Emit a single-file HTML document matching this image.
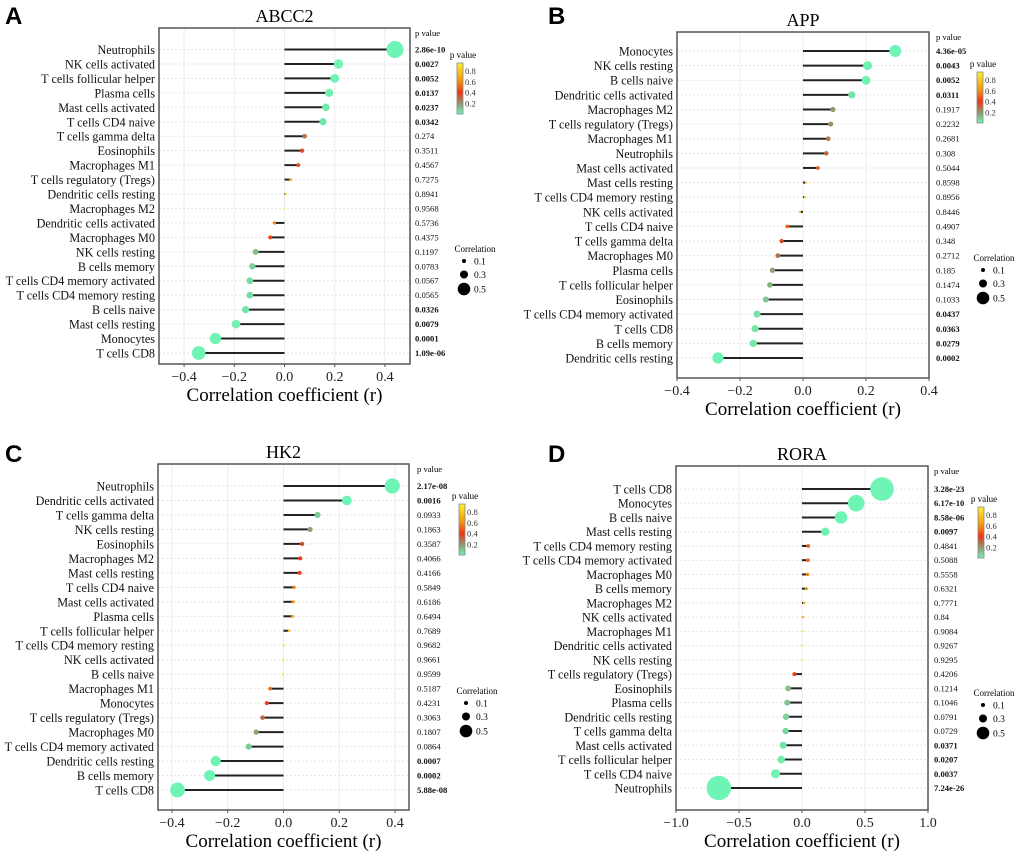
<!DOCTYPE html>
<html><head><meta charset="utf-8">
<style>
html,body{margin:0;padding:0;background:#fff;}
svg{display:block;font-family:"Liberation Serif",serif;}
.lt{font-family:"Liberation Sans",sans-serif;font-weight:bold;}
</style></head>
<body>
<svg id="fig" width="1020" height="854" viewBox="0 0 1020 854" xmlns="http://www.w3.org/2000/svg">
<defs>
<linearGradient id="pgrad" x1="0" y1="1" x2="0" y2="0">
<stop offset="0" stop-color="#6ef5b5"/>
<stop offset="0.2" stop-color="#8f9a6e"/>
<stop offset="0.42" stop-color="#ee3518"/>
<stop offset="0.65" stop-color="#f5950f"/>
<stop offset="1" stop-color="#fff030"/>
</linearGradient>
</defs>
</svg>
<script>
// Panel A (ABCC2)
const catsA=["Neutrophils","NK cells activated","T cells follicular helper","Plasma cells","Mast cells activated","T cells CD4 naive","T cells gamma delta","Eosinophils","Macrophages M1","T cells regulatory (Tregs)","Dendritic cells resting","Macrophages M2","Dendritic cells activated","Macrophages M0","NK cells resting","B cells memory","T cells CD4 memory activated","T cells CD4 memory resting","B cells naive","Mast cells resting","Monocytes","T cells CD8"];
const corrA=[0.44,0.215,0.2,0.178,0.165,0.153,0.08,0.07,0.055,0.025,0.006,-0.002,-0.04,-0.057,-0.115,-0.128,-0.138,-0.138,-0.155,-0.193,-0.275,-0.342];
const pvalA=["2.86e-10","0.0027","0.0052","0.0137","0.0237","0.0342","0.274","0.3511","0.4567","0.7275","0.8941","0.9568","0.5736","0.4375","0.1197","0.0783","0.0567","0.0565","0.0326","0.0079","0.0001","1.09e-06"];
const ticksA=["-0.4","-0.2","0.0","0.2","0.4"];
// Panel B (APP)
const catsB=["Monocytes","NK cells resting","B cells naive","Dendritic cells activated","Macrophages M2","T cells regulatory (Tregs)","Macrophages M1","Neutrophils","Mast cells activated","Mast cells resting","T cells CD4 memory resting","NK cells activated","T cells CD4 naive","T cells gamma delta","Macrophages M0","Plasma cells","T cells follicular helper","Eosinophils","T cells CD4 memory activated","T cells CD8","B cells memory","Dendritic cells resting"];
const corrB=[0.293,0.205,0.2,0.155,0.095,0.088,0.08,0.074,0.048,0.01,0.006,-0.01,-0.05,-0.068,-0.08,-0.097,-0.105,-0.118,-0.146,-0.152,-0.158,-0.27];
const pvalB=["4.36e-05","0.0043","0.0052","0.0311","0.1917","0.2232","0.2681","0.308","0.5044","0.8598","0.8956","0.8446","0.4907","0.348","0.2712","0.185","0.1474","0.1033","0.0437","0.0363","0.0279","0.0002"];
const ticksB=["-0.4","-0.2","0.0","0.2","0.4"];
// Panel C (HK2)
const catsC=["Neutrophils","Dendritic cells activated","T cells gamma delta","NK cells resting","Eosinophils","Macrophages M2","Mast cells resting","T cells CD4 naive","Mast cells activated","Plasma cells","T cells follicular helper","T cells CD4 memory resting","NK cells activated","B cells naive","Macrophages M1","Monocytes","T cells regulatory (Tregs)","Macrophages M0","T cells CD4 memory activated","Dendritic cells resting","B cells memory","T cells CD8"];
const corrC=[0.39,0.227,0.122,0.095,0.067,0.06,0.058,0.038,0.035,0.032,0.02,0.002,-0.002,-0.003,-0.048,-0.06,-0.075,-0.098,-0.125,-0.243,-0.265,-0.38];
const pvalC=["2.17e-08","0.0016","0.0933","0.1863","0.3587","0.4066","0.4166","0.5849","0.6186","0.6494","0.7689","0.9682","0.9661","0.9599","0.5187","0.4231","0.3063","0.1807","0.0864","0.0007","0.0002","5.88e-08"];
const ticksC=["-0.4","-0.2","0.0","0.2","0.4"];
// Panel D (RORA)
const catsD=["T cells CD8","Monocytes","B cells naive","Mast cells resting","T cells CD4 memory resting","T cells CD4 memory activated","Macrophages M0","B cells memory","Macrophages M2","NK cells activated","Macrophages M1","Dendritic cells activated","NK cells resting","T cells regulatory (Tregs)","Eosinophils","Plasma cells","Dendritic cells resting","T cells gamma delta","Mast cells activated","T cells follicular helper","T cells CD4 naive","Neutrophils"];
const corrD=[0.635,0.43,0.31,0.185,0.05,0.048,0.043,0.035,0.018,0.01,0.003,0.002,0.001,-0.06,-0.11,-0.117,-0.127,-0.13,-0.15,-0.165,-0.21,-0.66];
const pvalD=["3.28e-23","6.17e-10","8.58e-06","0.0097","0.4841","0.5088","0.5558","0.6321","0.7771","0.84","0.9084","0.9267","0.9295","0.4206","0.1214","0.1046","0.0791","0.0729","0.0371","0.0207","0.0037","7.24e-26"];
const ticksD=["-1.0","-0.5","0.0","0.5","1.0"];

const NS="http://www.w3.org/2000/svg";
const svg=document.getElementById('fig');
function mk(tag,attrs,parent){const e=document.createElementNS(NS,tag);for(const k in attrs)e.setAttribute(k,attrs[k]);(parent||svg).appendChild(e);return e;}
function lerp(a,b,t){return Math.round(a+(b-a)*t);}
const stops=[[0,[110,245,181]],[0.2,[143,154,110]],[0.4,[238,53,24]],[0.62,[245,149,15]],[0.95,[255,240,48]]];
function pcolor(p){
  if(p>=stops[stops.length-1][0])return 'rgb('+stops[stops.length-1][1].join(',')+')';
  for(let i=0;i<stops.length-1;i++){const a=stops[i],b=stops[i+1];if(p<=b[0]){const t=(p-a[0])/(b[0]-a[0]);return 'rgb('+[0,1,2].map(j=>lerp(a[1][j],b[1][j],t)).join(',')+')';}}
}
function panel(cfg,cats,corr,pv,ticks){
  const g=mk('g',{});
  
  
  const xs=v=>cfg.x0+(v-cfg.xmin)/(cfg.xmax-cfg.xmin)*(cfg.x1-cfg.x0);
  const n=cats.length, ys=i=>cfg.r0+i*(cfg.r1-cfg.r0)/(n-1);
  let t=mk('text',{x:cfg.lx,y:cfg.ly,'font-size':24,class:'lt'},g);t.textContent=cfg.letter;
  
  t=mk('text',{x:(cfg.x0+cfg.x1)/2,y:cfg.y0-6,'font-size':18,'text-anchor':'middle'},g);t.textContent=cfg.title;
  
  ticks.forEach(tk=>{const x=xs(parseFloat(tk));
    const l=mk('line',{x1:x,x2:x,y1:cfg.y0,y2:cfg.y1,stroke:'#ececec','stroke-width':1},g);
    
    const tt=mk('text',{x:x,y:cfg.y1+17,'font-size':14,'text-anchor':'middle',fill:'#222'},g);tt.textContent=tk.replace('-','\u2212');
    
    const tl=mk('line',{x1:x,x2:x,y1:cfg.y1,y2:cfg.y1+3,stroke:'#555'},g);
    
  });
  cats.forEach((c,i)=>{const y=ys(i);
    const l=mk('line',{x1:cfg.x0,x2:cfg.x1,y1:y,y2:y,stroke:'#e6e6e6','stroke-dasharray':'2,2'},g);
    
    const tt=mk('text',{x:cfg.x0-4,y:y+4.5,'font-size':12.2,'text-anchor':'end',fill:'#111'},g);tt.textContent=c;
    
  });
  const box=mk('rect',{x:cfg.x0,y:cfg.y0,width:cfg.x1-cfg.x0,height:cfg.y1-cfg.y0,fill:'none',stroke:'#555','stroke-width':1.5},g);
  
  cats.forEach((c,i)=>{const y=ys(i),v=corr[i],p=parseFloat(pv[i]);
    const st=mk('line',{x1:xs(0),x2:xs(v),y1:y,y2:y,stroke:'#222','stroke-width':2},g);
    
    const dot=mk('circle',{cx:xs(v),cy:y,r:1+17*Math.abs(v),fill:pcolor(p)},g);
    
    const pt=mk('text',{x:cfg.px,y:y+3,'font-size':8.6,fill:'#111','font-weight':p<0.05?'bold':'normal'},g);pt.textContent=pv[i];
    
  });
  t=mk('text',{x:cfg.px,y:cfg.y0+8,'font-size':8.6},g);t.textContent='p value';
  
  t=mk('text',{x:(cfg.x0+cfg.x1)/2,y:cfg.y1+37,'font-size':19,'text-anchor':'middle'},g);t.textContent='Correlation coefficient (r)';
  
  const cb=mk('rect',{x:cfg.cbx,y:cfg.cby,width:6,height:51,fill:'url(#pgrad)',stroke:'#888','stroke-width':0.8},g);
  
  t=mk('text',{x:cfg.cbx+6,y:cfg.cby-5,'font-size':9,'text-anchor':'middle'},g);t.textContent='p value';
  
  ["0.8","0.6","0.4","0.2"].forEach(s=>{const yy=cfg.cby+51-parseFloat(s)/0.95*51;
    const ct=mk('text',{x:cfg.cbx+8,y:yy+3,'font-size':8.6,fill:'#333'},g);ct.textContent=s;
    });
  t=mk('text',{x:cfg.sx+11,y:cfg.sy-9,'font-size':9,'text-anchor':'middle'},g);t.textContent='Correlation';
  
  [["0.1",2,0],["0.3",4,13.5],["0.5",6.3,28]].forEach(a=>{
    const c=mk('circle',{cx:cfg.sx,cy:cfg.sy+a[2],r:a[1],fill:'#000'},g);
    
    const st=mk('text',{x:cfg.sx+10,y:cfg.sy+a[2]+3.5,'font-size':9.5},g);st.textContent=a[0];
    });
}
panel({id:'a',letter:'A',title:'ABCC2',lx:5,ly:24,x0:159,x1:410,y0:28,y1:364,xmin:-0.5,xmax:0.5,r0:49.5,r1:353,px:415,cbx:457,cby:63,sx:464,sy:261},catsA,corrA,pvalA,ticksA);
panel({id:'b',letter:'B',title:'APP',lx:548,ly:24,x0:677,x1:929,y0:32,y1:378,xmin:-0.4,xmax:0.4,r0:51,r1:358,px:936,cbx:977,cby:72,sx:983,sy:270},catsB,corrB,pvalB,ticksB);
panel({id:'c',letter:'C',title:'HK2',lx:5,ly:462,x0:158,x1:409,y0:464,y1:810,xmin:-0.45,xmax:0.45,r0:486,r1:790,px:417,cbx:459,cby:504,sx:466,sy:703},catsC,corrC,pvalC,ticksC);
panel({id:'d',letter:'D',title:'RORA',lx:548,ly:462,x0:676,x1:928,y0:466,y1:810,xmin:-1,xmax:1,r0:489,r1:788,px:934,cbx:978,cby:507,sx:983,sy:705},catsD,corrD,pvalD,ticksD);
</script>
</body></html>
